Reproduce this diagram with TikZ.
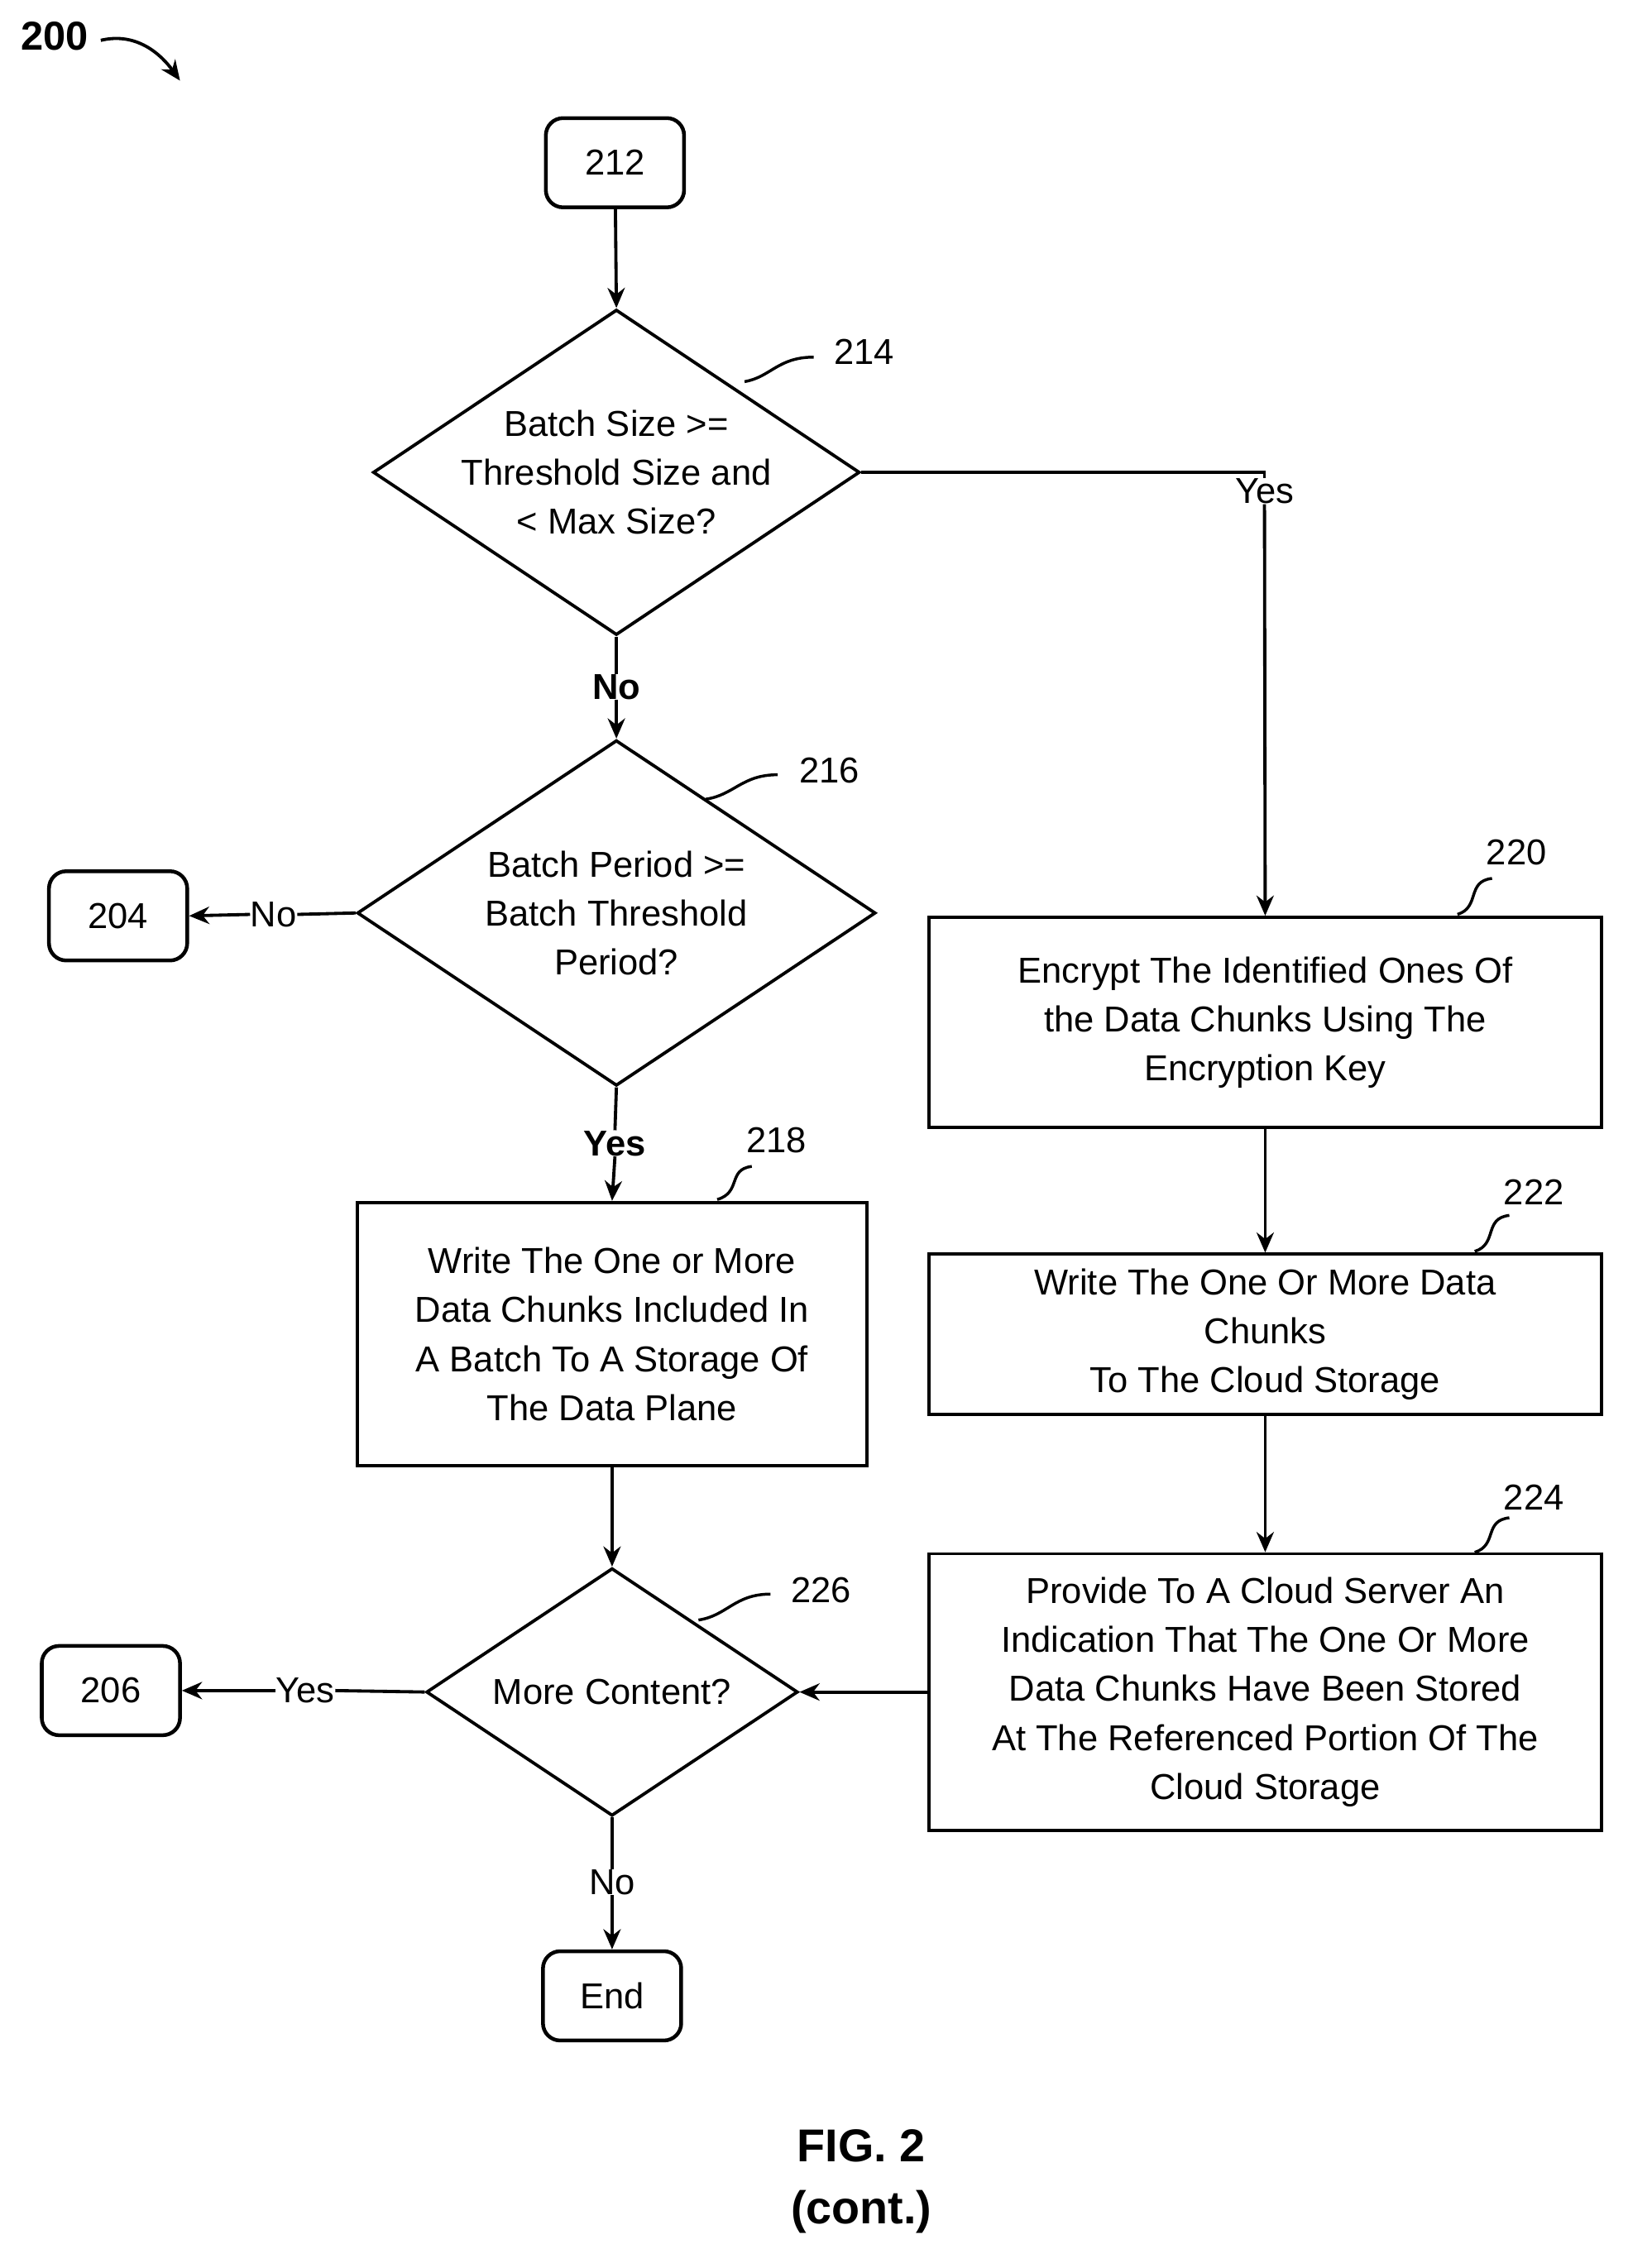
\documentclass[tikz,border=0pt]{standalone}
\usepackage{fontspec}
\setmainfont{Liberation Sans}
\usetikzlibrary{shapes.geometric,arrows.meta}
\begin{document}
\begin{tikzpicture}[x=0.5pt,y=-0.5pt,
  every node/.style={font=\fontsize{12.5}{17}\selectfont,align=center,inner sep=0},
  term/.style={draw,line width=1.3pt,rounded corners=6pt,minimum width=48pt,minimum height=31pt},
  box/.style={draw,line width=1.1pt},
  dia/.style={draw,line width=1.1pt,diamond},
  arr/.style={line width=1.1pt,-{Stealth[length=7pt,width=6pt]}},
  ln/.style={line width=1.1pt},
  sq/.style={line width=1pt},
  lab/.style={font=\fontsize{12.5}{15}\selectfont}]
\useasboundingbox (0,0) rectangle (1130,1575);
\node[font=\bfseries\fontsize{14}{16}\selectfont] (n200) at (38,25) {200};
\coordinate (c200a) at (70,28); \coordinate (c200b) at (125,56);
\draw[arr] (c200a) .. controls (95,22) and (112,38) .. (c200b);

\node[term] (n212) at (427,113) {212};
\node[dia,minimum width=169pt,minimum height=113pt,inner sep=0] (n214) at (428,328) {};
\node at (428,328) {Batch Size >=\\Threshold Size and\\< Max Size?};
\node[lab] (l214) at (600,244) {214};
\draw[sq] (517,265) .. controls (535,262) and (540,248) .. (565,248);

\node[font=\bfseries\fontsize{12.5}{15}\selectfont] (no1) at (428,477) {No};
\node[dia,minimum width=180pt,minimum height=120pt] (n216) at (428,634) {};
\node at (428,634) {Batch Period >=\\Batch Threshold\\Period?};
\node[lab] (l216) at (576,535) {216};
\draw[sq] (490,555) .. controls (510,552) and (515,538) .. (540,538);

\node[term] (n204) at (82,636) {204};
\node[lab] (no2) at (190,635) {No};
\draw[ln] (n216.west) -- (no2.east);
\draw[arr] (no2.west) -- (n204.east);

\node[font=\bfseries\fontsize{12.5}{15}\selectfont] (yes1) at (427,794) {Yes};
\node[box,minimum width=177pt,minimum height=91.5pt] (n218) at (425,926.5) {Write The One or More\\Data Chunks Included In\\A Batch To A Storage Of\\The Data Plane};
\node[lab] (l218) at (539,792) {218};
\draw[sq] (498,833) .. controls (515,828) and (505,812) .. (522,810);

\node[box,minimum width=233.5pt,minimum height=73pt] (n220) at (878.5,710) {Encrypt The Identified Ones Of\\the Data Chunks Using The\\Encryption Key};
\node[lab] (l220) at (1053,592) {220};
\draw[sq] (1012,635) .. controls (1028,630) and (1018,612) .. (1036,610);

\node[lab] (yes2) at (878,341) {Yes};
\coordinate (cy) at (878,328);
\draw[ln] (n214.east) -- (cy) -- (yes2.north);
\draw[arr] (yes2.south) -- (n220.north);

\node[box,minimum width=233.5pt,minimum height=55.5pt] (n222) at (878.5,926.5) {Write The One Or More Data\\Chunks\\To The Cloud Storage};
\node[lab] (l222) at (1065,828) {222};
\draw[sq] (1024,869) .. controls (1040,864) and (1030,846) .. (1048,844);

\node[box,minimum width=233.5pt,minimum height=96pt] (n224) at (878.5,1175) {Provide To A Cloud Server An\\Indication That The One Or More\\Data Chunks Have Been Stored\\At The Referenced Portion Of The\\Cloud Storage};
\node[lab] (l224) at (1065,1040) {224};
\draw[sq] (1024,1078) .. controls (1040,1073) and (1030,1056) .. (1048,1054);

\node[dia,minimum width=129pt,minimum height=86pt] (n226) at (425,1175) {};
\node at (425,1175) {More Content?};
\node[lab] (l226) at (570,1104) {226};
\draw[sq] (485,1125) .. controls (505,1122) and (510,1107) .. (535,1107);

\node[term] (n206) at (77,1174) {206};
\node[lab] (yes3) at (212,1174) {Yes};
\node[lab] (no3) at (425,1307) {No};
\node[term] (nend) at (425,1386) {End};

\draw[arr] (n212) -- (n214.north);
\draw[ln] (n214.south) -- (no1.north);
\draw[arr] (no1.south) -- (n216.north);
\draw[ln] (n216.south) -- (yes1.north);
\draw[arr] (yes1.south) -- (n218.north);
\draw[arr] (n218.south) -- (n226.north);
\draw[arr] (n220) -- (n222);
\draw[arr] (n222) -- (n224);
\draw[arr] (n224.west) -- (n226.east);
\draw[ln] (n226.west) -- (yes3.east);
\draw[arr] (yes3.west) -- (n206.east);
\draw[ln] (n226.south) -- (no3.north);
\draw[arr] (no3.south) -- (nend.north);

\node[font=\bfseries\fontsize{16}{20}\selectfont] (fig) at (598,1490) {FIG. 2};
\node[font=\bfseries\fontsize{16}{20}\selectfont] (cont) at (598,1536) {(cont.)};
\end{tikzpicture}
\end{document}
